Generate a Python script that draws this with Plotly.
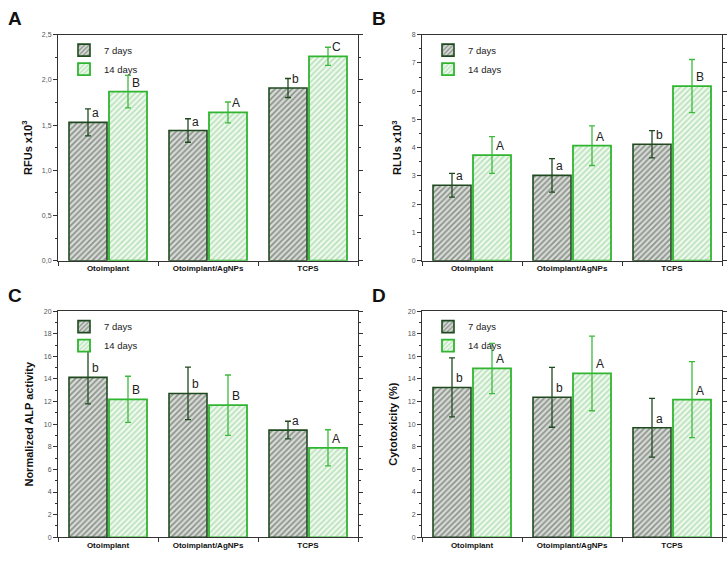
import plotly.graph_objects as go

categories = ["Otoimplant", "Otoimplant/AgNPs", "TCPS"]
series_names = ["7 days", "14 days"]

# Panel A: RFUs x10^3
a_7d = [1.53, 1.44, 1.91]
a_7d_err = [0.15, 0.13, 0.105]
a_14d = [1.87, 1.64, 2.26]
a_14d_err = [0.18, 0.115, 0.10]
a_letters_7d = ["a", "a", "b"]
a_letters_14d = ["B", "A", "C"]

# Panel B: RLUs x10^3
b_7d = [2.67, 3.02, 4.12]
b_7d_err = [0.42, 0.59, 0.48]
b_14d = [3.74, 4.07, 6.18]
b_14d_err = [0.65, 0.70, 0.94]
b_letters_7d = ["a", "a", "b"]
b_letters_14d = ["A", "A", "B"]

# Panel C: Normalized ALP activity
c_7d = [14.14, 12.72, 9.48]
c_7d_err = [2.35, 2.32, 0.78]
c_14d = [12.2, 11.68, 7.91]
c_14d_err = [2.04, 2.67, 1.6]
c_letters_7d = ["b", "b", "a"]
c_letters_14d = ["B", "B", "A"]

# Panel D: Cytotoxicity (%)
d_7d = [13.25, 12.38, 9.68]
d_7d_err = [2.61, 2.65, 2.6]
d_14d = [14.93, 14.49, 12.17]
d_14d_err = [2.22, 3.3, 3.36]
d_letters_7d = ["b", "b", "a"]
d_letters_14d = ["A", "A", "A"]

y_titles = ["RFUs x10<sup>3</sup>", "RLUs x10<sup>3</sup>", "Normalized ALP activity", "Cytotoxicity (%)"]
panel_labels = ["A", "B", "C", "D"]

a_ticks = [0, 0.5, 1.0, 1.5, 2.0, 2.5]
a_ticktext = ["0,0", "0,5", "1,0", "1,5", "2,0", "2,5"]
b_ticks = [0, 1, 2, 3, 4, 5, 6, 7, 8]
cd_ticks = [0, 2, 4, 6, 8, 10, 12, 14, 16, 18, 20]

W, H = 728, 562
FONT = "Arial, Liberation Sans, sans-serif"
DARK = "#1f4a1f"
GREEN = "#2fb52f"

panels = [
    dict(v7=a_7d, e7=a_7d_err, v14=a_14d, e14=a_14d_err, l7=a_letters_7d, l14=a_letters_14d,
         ticks=a_ticks, ticktext=a_ticktext, rng=[0, 2.5], minor=0.25),
    dict(v7=b_7d, e7=b_7d_err, v14=b_14d, e14=b_14d_err, l7=b_letters_7d, l14=b_letters_14d,
         ticks=b_ticks, ticktext=[str(t) for t in b_ticks], rng=[0, 8], minor=0.5),
    dict(v7=c_7d, e7=c_7d_err, v14=c_14d, e14=c_14d_err, l7=c_letters_7d, l14=c_letters_14d,
         ticks=cd_ticks, ticktext=[str(t) for t in cd_ticks], rng=[0, 20], minor=1),
    dict(v7=d_7d, e7=d_7d_err, v14=d_14d, e14=d_14d_err, l7=d_letters_7d, l14=d_letters_14d,
         ticks=cd_ticks, ticktext=[str(t) for t in cd_ticks], rng=[0, 20], minor=1),
]

# plot-area pixel boxes (left, top, right, bottom)
boxes = [(58, 31, 358, 260), (422, 31, 722, 260), (58, 311, 358, 540), (422, 311, 722, 540)]

fig = go.Figure()
annotations = []
layout_upd = {}

for i, (p, box) in enumerate(zip(panels, boxes)):
    n = "" if i == 0 else str(i + 1)
    xa, ya = "x" + n, "y" + n
    leg = "legend" + n
    l, t, r, b = box
    fig.add_trace(go.Bar(
        x=categories, y=p["v7"], name=series_names[0], xaxis=xa, yaxis=ya, legend=leg,
        marker=dict(color="#d9ddd9", line=dict(color=DARK, width=1.6),
                    pattern=dict(shape="/", fgcolor="#3f443f", bgcolor="#d6dbd6", size=4, solidity=0.4)),
        error_y=dict(type="data", array=p["e7"], color=DARK, thickness=1.3, width=3),
    ))
    fig.add_trace(go.Bar(
        x=categories, y=p["v14"], name=series_names[1], xaxis=xa, yaxis=ya, legend=leg,
        marker=dict(color="#eef8ee", line=dict(color=GREEN, width=1.8),
                    pattern=dict(shape="/", fgcolor="#80c980", bgcolor="#f0f9f0", size=4, solidity=0.4)),
        error_y=dict(type="data", array=p["e14"], color="#3dba3d", thickness=1.3, width=3),
    ))
    layout_upd["xaxis" + n] = dict(
        domain=[l / W, r / W], anchor=ya, showline=True, linecolor="#333", linewidth=1, mirror=True,
        ticks="outside", tickson="boundaries", ticklen=4, tickcolor="#333",
        tickfont=dict(size=8, family=FONT, color="#111", weight="bold"), range=[-0.5, 2.5],
    )
    layout_upd["yaxis" + n] = dict(
        domain=[1 - b / H, 1 - t / H], anchor=xa, range=p["rng"], showline=True, linecolor="#333",
        linewidth=1, mirror="ticks", ticks="outside", ticklen=4, tickcolor="#333",
        tickvals=p["ticks"], ticktext=p["ticktext"], showgrid=False, zeroline=False,
        tickfont=dict(size=7, family=FONT, color="#555"),
        minor=dict(dtick=p["minor"], ticks="outside", ticklen=2, tickcolor="#333"),
        title=dict(text=y_titles[i], font=dict(size=11, family=FONT, color="#111", weight="bold"), standoff=7),
    )
    layout_upd[leg] = dict(
        x=(l + 6) / W, y=1 - (t + 1) / H, xanchor="left", yanchor="top", bgcolor="rgba(0,0,0,0)",
        font=dict(size=9.5, family=FONT, color="#222"), tracegroupgap=0, itemwidth=30,
    )
    for j, cat in enumerate(categories):
        annotations.append(dict(x=cat, y=p["v7"][j], xref=xa, yref=ya, text=p["l7"][j], showarrow=False,
                                xshift=-13, yshift=0, yanchor="bottom",
                                font=dict(size=12, family=FONT, color="#222")))
        annotations.append(dict(x=cat, y=p["v14"][j], xref=xa, yref=ya, text=p["l14"][j], showarrow=False,
                                xshift=28, yshift=0, yanchor="bottom",
                                font=dict(size=12, family=FONT, color="#222")))
    annotations.append(dict(x=(l - 52) / W, y=1 - (t - 16) / H, xref="paper", yref="paper",
                            text=panel_labels[i], showarrow=False, xanchor="left", yanchor="middle",
                            font=dict(size=19, family=FONT, color="#111", weight="bold")))

fig.update_layout(
    width=W, height=H, margin=dict(l=0, r=0, t=0, b=0), paper_bgcolor="white", plot_bgcolor="white",
    barmode="group", bargap=0.2, bargroupgap=0.05, annotations=annotations, showlegend=True,
    font=dict(family=FONT), **layout_upd,
)

fig.write_html("out.html", config={"displayModeBar": False},
               post_script="document.body.style.margin='0';document.body.style.overflow='hidden';")
